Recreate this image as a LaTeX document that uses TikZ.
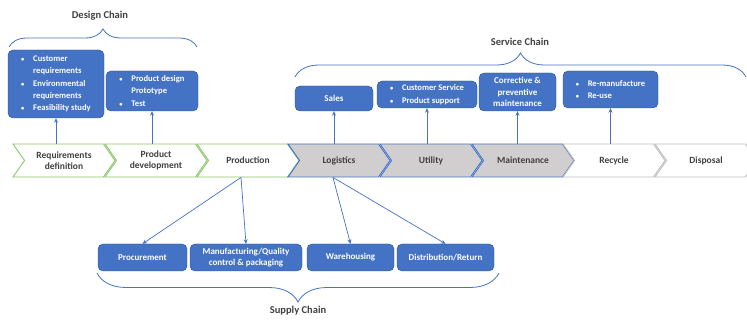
\documentclass[tikz,border=0pt]{standalone}
\usepackage{fontspec}
\setmainfont{Carlito}
\usetikzlibrary{arrows.meta,shapes.symbols,decorations.pathreplacing}

\definecolor{boxblue}{HTML}{4472C4}
\definecolor{boxedge}{HTML}{2F528F}
\definecolor{chevgreen}{HTML}{8CC66B}
\definecolor{chevgray}{HTML}{D0CECE}
\definecolor{chevpale}{HTML}{BFBFBF}
\definecolor{labelgray}{HTML}{404040}

\newcommand{\bul}{\makebox[12pt][l]{\scalebox{0.75}{\textbullet}}}
\newcommand{\cont}{\hspace*{12pt}}

\tikzset{
  chev/.style={signal, signal from=west, signal to=east, signal pointer angle=110,
    minimum width=102pt, minimum height=33pt, inner sep=0pt, align=center,
    line width=0.9pt, text=labelgray, font=\bfseries\fontsize{9.5}{11.5}\selectfont},
  designchev/.style={chev, draw=chevgreen, fill=white},
  servchev/.style={chev, draw=boxblue, fill=chevgray},
  endchev/.style={chev, draw=chevpale, fill=white},
  bluebox/.style={draw=boxedge, fill=boxblue, rounded corners=5pt, text=white,
    inner sep=0pt, align=center, font=\bfseries\fontsize{9}{11.5}\selectfont},
  listbox/.style={bluebox, align=left, font=\bfseries\fontsize{8.6}{12.4}\selectfont},
  arr/.style={draw=boxblue, line width=0.7pt, -{Stealth[length=4.5pt,width=4pt]}},
  chain/.style={draw=boxblue, line width=0.8pt, decorate, decoration={brace, amplitude=#1}},
  chainlabel/.style={text=labelgray, font=\bfseries\fontsize{10.5}{12}\selectfont}
}

\begin{document}
\begin{tikzpicture}[x=1pt, y=-1pt]
\useasboundingbox (0, 0) rectangle (747, 320);

% life cycle
\node[designchev] (req) at (64, 160.5) {Requirements\\definition};
\node[designchev] (dev) at (156, 160.5) {Product\\development};
\node[designchev] (prod) at (248, 160.5) {Production};
\node[servchev] (logi) at (339, 160.5) {Logistics};
\node[servchev] (util) at (431, 160.5) {Utility};
\node[servchev] (maint) at (523, 160.5) {Maintenance};
\node[endchev] (recy) at (614, 160.5) {Recycle};
\node[endchev] (disp) at (706, 160.5) {Disposal};

% design chain
\node[listbox, minimum width=96pt, minimum height=68pt] (custreq) at (56, 84)
  {\bul Customer\\\cont requirements\\\bul Environmental\\\cont requirements\\\bul Feasibility study};
\node[listbox, minimum width=92pt, minimum height=40pt] (design) at (152, 91)
  {\bul Product design\\\cont Prototype\\\bul Test};

% service chain
\node[bluebox, minimum width=78pt, minimum height=25pt] (sales) at (334, 98.5) {Sales};
\node[listbox, minimum width=100pt, minimum height=27pt] (support) at (427, 94.5)
  {\bul Customer Service\\\bul Product support};
\node[bluebox, minimum width=77pt, minimum height=38pt] (correct) at (517.5, 92)
  {Corrective \&\\preventive\\maintenance};
\node[listbox, minimum width=95pt, minimum height=37pt] (reman) at (610.5, 89.5)
  {\bul Re-manufacture\\\bul Re-use};

% supply chain
\node[bluebox, minimum width=89pt, minimum height=27pt] (proc) at (142.5, 257.5) {Procurement};
\node[bluebox, minimum width=112pt, minimum height=27pt] (manu) at (246, 257.5)
  {Manufacturing/Quality\\control \& packaging};
\node[bluebox, minimum width=87pt, minimum height=27pt] (ware) at (350.5, 257.5) {Warehousing};
\node[bluebox, minimum width=97pt, minimum height=27pt] (dist) at (445.5, 257.5) {Distribution/Return};

% connectors
\draw[arr] (req.north -| custreq.south) -- (custreq.south);
\draw[arr] (dev.north -| design.south) -- (design.south);
\draw[arr] (logi.north -| sales.south) -- (sales.south);
\draw[arr] (util.north -| support.south) -- (support.south);
\draw[arr] (maint.north -| correct.south) -- (correct.south);
\draw[arr] (recy.north -| reman.south) -- (reman.south);
\draw[arr] ([xshift=-7pt]prod.south) -- (proc.north);
\draw[arr] ([xshift=-7pt]prod.south) -- (manu.north);
\draw[arr] ([xshift=-6pt]logi.south) -- (ware.north);
\draw[arr] ([xshift=-6pt]logi.south) -- (dist.north);

% braces
\draw[chain=18] (9, 47) -- (197, 47);
\node[chainlabel] (designlbl) at (100, 16) {Design Chain};
\draw[chain=24] (295, 77) -- (746, 77);
\node[chainlabel] (servlbl) at (520, 42) {Service Chain};
\draw[chain=29] (499, 273) -- (97, 273);
\node[chainlabel] (supplbl) at (298, 311) {Supply Chain};
\end{tikzpicture}
\end{document}
